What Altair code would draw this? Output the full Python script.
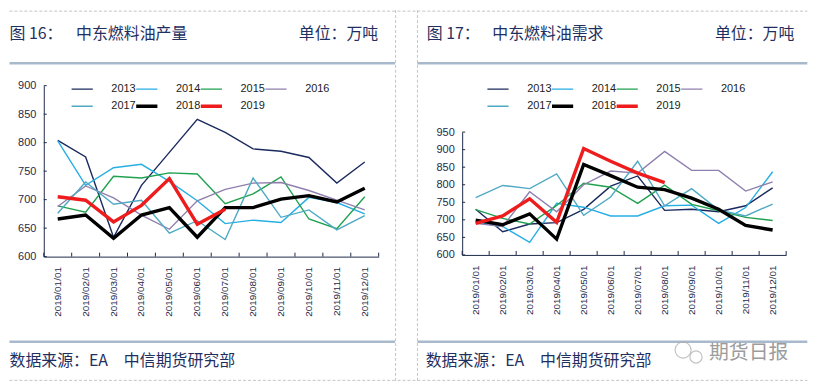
import altair as alt
import pandas as pd

months = ["2019/01/01", "2019/02/01", "2019/03/01", "2019/04/01", "2019/05/01", "2019/06/01",
          "2019/07/01", "2019/08/01", "2019/09/01", "2019/10/01", "2019/11/01", "2019/12/01"]
years = ["2013", "2014", "2015", "2016", "2017", "2018", "2019"]
thick_years = ["2018", "2019"]
colors = ["#1b2a5e", "#27aee3", "#1fa14f", "#8f7fae", "#4fa9c4", "#000000", "#ee1c1c"]
THIN, THICK = 1.4, 3.4

# Fig 16: Middle East fuel oil production (10k t)
prod_2013 = [804, 775, 634, 725, 783, 841, 818, 789, 785, 774, 729, 766]
prod_2014 = [803, 725, 756, 762, 732, 698, 658, 664, 660, 704, 695, 675]
prod_2015 = [689, 678, 741, 738, 747, 745, 693, 710, 740, 666, 649, 705]
prod_2016 = [688, 724, 703, 673, 648, 698, 718, 729, 730, 716, 699, 682]
prod_2017 = [676, 731, 692, 699, 641, 663, 630, 738, 669, 682, 647, 672]
prod_2018 = [666, 673, 632, 673, 686, 634, 686, 686, 701, 707, 696, 720]
prod_2019 = [705, 699, 661, 690, 737, 657, 683]

# Fig 17: Middle East fuel oil demand (10k t)
dem_2013 = [730, 666, 688, 692, 730, 796, 825, 727, 730, 723, 740, 791]
dem_2014 = [694, 681, 636, 747, 736, 711, 711, 740, 742, 690, 735, 837]
dem_2015 = [729, 704, 688, 741, 804, 793, 747, 799, 744, 726, 707, 698]
dem_2016 = [690, 681, 780, 723, 800, 839, 833, 895, 841, 841, 782, 808]
dem_2017 = [763, 798, 789, 831, 713, 765, 867, 740, 789, 728, 711, 745]
dem_2018 = [699, 686, 717, 645, 858, 826, 793, 786, 762, 730, 684, 671]
dem_2019 = [690, 711, 760, 693, 903, 867, 833, 806]

prod_ticks = [600, 650, 700, 750, 800, 850, 900]
dem_ticks = [600, 650, 700, 750, 800, 850, 900, 950]

FONT = "Liberation Sans"
CJK = "Noto Sans CJK SC"
AX = "#1e2a4a"
NAVY = "#1f2f5f"
SEP = "#a9b9cc"
DASH = "#c4c4c4"


def long_table(series):
    rows = []
    for y, vals in zip(years, series):
        for m, v in zip(months, vals):
            rows.append({"month": m, "year": y, "value": v})
    return pd.DataFrame(rows)


def xenc(bp):
    return alt.X("month:N", sort=months, bandPosition=bp,
                 scale=alt.Scale(type="band", domain=months, paddingInner=0, paddingOuter=0),
                 axis=alt.Axis(title=None, labelAngle=-90, ticks=False, labelPadding=10,
                               labelFont=FONT, labelFontSize=10, labelColor=AX, zindex=2,
                               domainColor=AX, domainWidth=1, labelOverlap=False, grid=False))


def panel(df, W, H, ydom, yrange, yticks, texts, box, seps, dashes, leg_xy, extras=None):
    one = alt.Data(values=[{"k": 1}])
    yenc = alt.Y("value:Q", scale=alt.Scale(domain=ydom, range=yrange, nice=False, zero=False),
                 axis=alt.Axis(title=None, values=yticks, ticks=False, grid=False, labelPadding=8,
                               labelFont=FONT, labelFontSize=11, labelColor=AX, zindex=2,
                               domainColor=AX, domainWidth=1))
    layers = []
    layers.append(alt.Chart(one).mark_rect(fill="white").encode(
        x=alt.value(box[0]), x2=alt.value(box[1]), y=alt.value(box[2]), y2=alt.value(box[3])))
    for (x1, x2, y1, y2) in dashes:
        layers.append(alt.Chart(one).mark_rule(color=DASH, strokeWidth=1, strokeDash=[3, 2]).encode(
            x=alt.value(x1), x2=alt.value(x2), y=alt.value(y1), y2=alt.value(y2)))
    for (x1, x2, y) in seps:
        layers.append(alt.Chart(one).mark_rule(color=SEP, strokeWidth=2.5).encode(
            x=alt.value(x1), x2=alt.value(x2), y=alt.value(y)))
    for (txt, x, y, align, size, col) in texts:
        layers.append(alt.Chart(one).mark_text(text=txt, align=align, baseline="middle",
                                               font=CJK, fontSize=size, color=col).encode(
            x=alt.value(x), y=alt.value(y)))
    if extras:
        layers.extend(extras)
    thick_list = ",".join("'%s'" % y for y in thick_years)
    leg = alt.Legend(title=None, orient="none", legendX=leg_xy[0], legendY=leg_xy[1],
                     direction="horizontal", columns=4, symbolType="stroke", symbolSize=1000,
                     symbolOffset=0, gridAlign="all",
                     labelFont=FONT, labelFontSize=11, labelColor="#222", labelOffset=29,
                     columnPadding=0, rowPadding=5.2, clipHeight=11, padding=0, zindex=3,
                     symbolStrokeWidth=alt.ExprRef(
                         "indexof([%s], datum.value) >= 0 ? %s : %s" % (thick_list, THICK, THIN)))
    color = alt.Color("year:N", scale=alt.Scale(domain=years, range=colors), legend=leg)
    thin_lines = alt.Chart(df).transform_filter(
        alt.FieldOneOfPredicate(field="year", oneOf=[y for y in years if y not in thick_years])
    ).mark_line(strokeWidth=THIN).encode(x=xenc(0.5), y=yenc, color=color)
    thick_lines = alt.Chart(df).transform_filter(
        alt.FieldOneOfPredicate(field="year", oneOf=thick_years)
    ).mark_line(strokeWidth=THICK).encode(x=xenc(0.5), y=yenc, color=color)
    ytick = alt.Chart(pd.DataFrame({"value": yticks})).mark_rule(color=AX, strokeWidth=1).encode(
        y=yenc, x=alt.value(0), x2=alt.value(3))
    xtick = alt.Chart(pd.DataFrame({"month": months})).mark_rule(color=AX, strokeWidth=1).encode(
        x=xenc(0), y=alt.value(H - 4), y2=alt.value(H))
    xtick_end = alt.Chart(pd.DataFrame({"month": months[-1:]})).mark_rule(color=AX, strokeWidth=1).encode(
        x=xenc(1), y=alt.value(H - 4), y2=alt.value(H))
    layers += [thin_lines, thick_lines, ytick, xtick, xtick_end]
    return alt.layer(*layers).properties(width=W, height=H)


# Both plot areas start at page y = 84; left plot origin x = 42.5, right = 461.7
LW, LH = 337, 172
left = panel(
    long_table([prod_2013, prod_2014, prod_2015, prod_2016, prod_2017, prod_2018, prod_2019]),
    LW, LH, [600, 900], [LH, 0], prod_ticks,
    texts=[("图 16：", -34.5, -51.5, "left", 16, NAVY),
           ("中东燃料油产量", 32.5, -51.5, "left", 16, NAVY),
           ("单位：万吨", 336.5, -51.5, "right", 16, NAVY),
           ("数据来源：EA　中信期货研究部", -34.5, 277, "left", 16, NAVY)],
    box=(-34.5, 354.2, -76, 297),
    seps=[(-34.5, 353.5, -22.5), (-34.5, 353.5, 257.7)],
    dashes=[(354, 354, -76, 297), (-34.5, 354, -75, -75), (-34.5, 354, 296.5, 296.5)],
    leg_xy=(28, -2),
)

RW, RH = 326, 170.3
one = alt.Data(values=[{"k": 1}])
icon = [
    alt.Chart(one).mark_point(shape="circle", filled=False, color="#aaaaaa", size=260, strokeWidth=1.2).encode(
        x=alt.value(222.3), y=alt.value(266)),
    alt.Chart(one).mark_point(shape="circle", filled=False, color="#aaaaaa", size=150, strokeWidth=1.2).encode(
        x=alt.value(235.3), y=alt.value(273)),
]
right = panel(
    long_table([dem_2013, dem_2014, dem_2015, dem_2016, dem_2017, dem_2018, dem_2019]),
    RW, RH, [600, 950], [RH, 46.7], dem_ticks,
    texts=[("图 17：", -35.7, -51.5, "left", 16, NAVY),
           ("中东燃料油需求", 30.3, -51.5, "left", 16, NAVY),
           ("单位：万吨", 334.3, -51.5, "right", 16, NAVY),
           ("数据来源：EA　中信期货研究部", -36.7, 277, "left", 16, NAVY),
           ("期货日报", 248.3, 269, "left", 20, "#9c9c9c")],
    box=(-65, 347.3, -76, 297),
    seps=[(-45, 347.3, -22.5), (-45, 347.3, 257.7)],
    dashes=[(-45, -45, -76, 297), (-65, 347.3, -75, -75), (-65, 347.3, 296.5, 296.5)],
    leg_xy=(25.4, -2),
    extras=icon,
)

chart = alt.hconcat(left, right, spacing=0).resolve_scale(
    x="independent", y="independent", color="independent"
).resolve_legend(color="independent").properties(
    padding=0, background="white"
).configure_view(stroke=None)

chart.save("out.html", embed_options={"renderer": "svg", "actions": False})
